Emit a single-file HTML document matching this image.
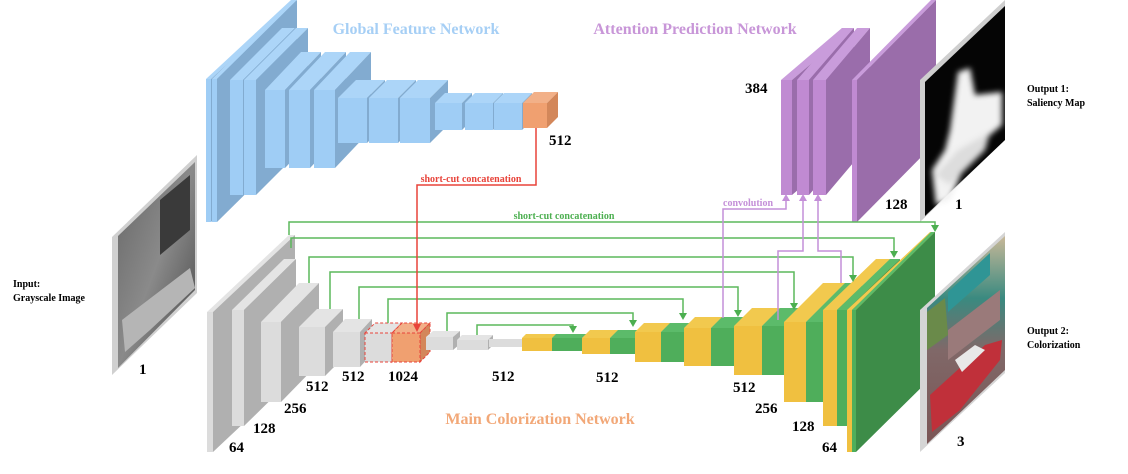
<!DOCTYPE html>
<html><head><meta charset="utf-8">
<style>
html,body{margin:0;padding:0;background:#fff;}
svg{display:block;}
text{font-family:"Liberation Serif",serif;font-weight:bold;}
</style></head>
<body>
<svg id="s" width="1128" height="474" viewBox="0 0 1128 474" xmlns="http://www.w3.org/2000/svg">
<defs>
<linearGradient id="gray1" x1="0" y1="0" x2="1" y2="1"><stop offset="0" stop-color="#666"/><stop offset="0.5" stop-color="#8a8a8a"/><stop offset="1" stop-color="#444"/></linearGradient>
<linearGradient id="col1" x1="0" y1="0" x2="0" y2="1"><stop offset="0" stop-color="#c8b898"/><stop offset="0.3" stop-color="#3a8a80"/><stop offset="0.55" stop-color="#806868"/><stop offset="1" stop-color="#7a5555"/></linearGradient>
<filter id="bl"><feGaussianBlur stdDeviation="3"/></filter>
</defs>
<g id="g"></g>
</svg>
<script>
var NS="http://www.w3.org/2000/svg",G=document.getElementById('g');
function el(t,a,txt){var e=document.createElementNS(NS,t);for(var k in a)e.setAttribute(k,a[k]);if(txt!==undefined)e.textContent=txt;G.appendChild(e);return e;}
function poly(p,f,extra){var a={points:p.map(function(q){return q.join(',')}).join(' '),fill:f};for(var k in extra)a[k]=extra[k];return el('polygon',a);}
function box(x,y,w,h,dx,dy,cf,ct,cs,extra){
  poly([[x,y],[x+w,y],[x+w+dx,y-dy],[x+dx,y-dy]],ct,extra);
  poly([[x+w,y],[x+w+dx,y-dy],[x+w+dx,y+h-dy],[x+w,y+h]],cs,extra);
  el('rect',Object.assign({x:x,y:y,width:w,height:h,fill:cf},extra||{}));
}
var BF='#9fcdf5',BT='#acd5f8',BS='#82abd0';
var GF='#dcdcdc',GT='#e4e4e4',GS='#b0b0b0';
var YF='#f0c040',YT='#f2c94e',YS='#e0b030';
var NF='#4fae5b',NT='#5cbb6a',NS2='#3e8f4a';
var PF='#c08ad2',PT='#c99cdb',PS='#9a6dab';
box(206,79,5,143,85,79,BF,BT,BS);
box(212,79,5,143,80,79,BF,BT,BS);
box(230,80,13,115,52,52,BF,BT,BS);
box(244,80,12,115,52,52,BF,BT,BS);
box(265,90,20,78,36,38,BF,BT,BS);
box(289,90,21,78,36,38,BF,BT,BS);
box(314,90,21,78,36,38,BF,BT,BS);
box(338,98,29,45,18,18,BF,BT,BS);
box(369,98,29,45,18,18,BF,BT,BS);
box(400,98,30,45,18,18,BF,BT,BS);
box(435,103,27,27,10,10,BF,BT,BS);
box(465,103,28,27,10,10,BF,BT,BS);
box(494,103,28,27,10,10,BF,BT,BS);
box(523,103,24,25,11,11,'#f0a070','#f2b088','#d3875a');
box(207,312,6,140,82,77,GF,GT,GS);
box(232,310,12,116,52,51,GF,GT,GS);
box(261,322,20,80,38,39,GF,GT,GS);
box(299,327,26,49,18,18,GF,GT,GS);
box(333,332,27,35,12,13,GF,GT,GS);
box(365,333,27,29,10,10,GF,GT,GS,{stroke:'#e8433a','stroke-width':1,'stroke-dasharray':'3,2'});
box(392,333,28,29,10,10,'#f0a070','#f2b088','#d3875a',{stroke:'#e8433a','stroke-width':1,'stroke-dasharray':'3,2'});
box(426,337,27,13,7,6,GF,GT,GS);
box(457,340,31,10,5,5,GF,GT,GS);
el('rect',{x:489,y:339,width:33,height:8,fill:'#dcdcdc'});
box(522,338,30,13,4,4,YF,YT,YS);
box(552,338,30,13,4,4,NF,NT,NS2);
box(582,338,28,16,8,8,YF,YT,YS);
box(610,338,26,16,8,8,NF,NT,NS2);
box(635,332,26,30,9,9,YF,YT,YS);
box(661,332,24,30,9,9,NF,NT,NS2);
box(684,328,27,38,11,11,YF,YT,YS);
box(711,328,23,38,11,11,NF,NT,NS2);
box(734,326,28,49,18,18,YF,YT,YS);
box(762,326,22,49,18,18,NF,NT,NS2);
box(784,322,22,80,39,39,YF,YT,YS);
box(806,322,17,80,39,39,NF,NT,NS2);
box(823,310,14,116,53,51,YF,YT,YS);
box(837,310,10,116,53,51,NF,NT,NS2);
box(847,310,5,142,83,78,YF,YT,YS);
box(852,310,4,142,79,78,NF,NT,'#3d8c48');
box(781,80,11,115,61,52,PF,PT,PS);
box(797,80,12,115,45,52,PF,PT,PS);
box(813,80,13,115,44,52,PF,PT,PS);
box(852,80,5,142,79,80,PF,PT,'#9a6daa');
// saliency
poly([[920,80],[1005,0],[1005,140],[920,222]],'#cfcfcf');
poly([[925,82],[1005,6],[1005,140],[925,216]],'#050505');
var sw=el('g',{filter:'url(#bl)'});
function sp(p,f){var e=poly(p,f);sw.appendChild(e);}
sp([[950,130],[958,72],[970,68],[975,95],[1002,92],[1002,125],[990,135],[965,165],[950,200],[936,205],[932,170],[945,150]],'#f2f2f2');
sp([[935,175],[958,150],[990,132],[985,150],[950,185]],'#ddd');
// colorization
poly([[920,310],[1005,232],[1005,373],[920,452]],'#d5d5d5');
poly([[927,308],[1005,236],[1005,370],[927,444]],'url(#col1)');
poly([[948,292],[990,253],[990,275],[948,312]],'#2f9595');
poly([[927,312],[945,298],[948,335],[927,350]],'#6a8a4a');
poly([[948,330],[1000,290],[1000,320],[948,360]],'#9a7a7a');
poly([[930,395],[985,345],[1002,340],[1000,360],[960,410],[932,432]],'#c0303a');
poly([[955,360],[975,345],[985,350],[962,372]],'#e8e8e8');
// grayscale input
poly([[112,237],[197,155],[197,293],[112,375]],'#d0d0d0');
poly([[118,236],[195,162],[195,290],[118,368]],'url(#gray1)');
poly([[122,320],[190,268],[195,288],[150,330],[125,352]],'#b5b5b5');
poly([[160,200],[190,175],[190,230],[160,255]],'#3a3a3a');
// green skip lines
var gl=[[289,235,222,935,232],[291,248,238,894,258],[309,283,257,853,282],[330,309,272,794,310],[359,319,287,738,317],[388,323,299,683,320],[447,331,313,633,327],[477,335,325,573,333]];
gl.forEach(function(a){el('polyline',{points:a[0]+','+a[1]+' '+a[0]+','+a[2]+' '+a[3]+','+a[2]+' '+a[3]+','+(a[4]-5),fill:'none',stroke:'#5cb85c','stroke-width':1.5});
 poly([[a[3]-4,a[4]-7],[a[3]+4,a[4]-7],[a[3],a[4]]],'#4caf50');});
el('polyline',{points:'536,128 536,185 417,185 417,326',fill:'none',stroke:'#e8433a','stroke-width':1.5});
poly([[413,324],[421,324],[417,332]],'#e8433a');
var pc='#c48fd8';
el('polyline',{points:'723,318 723,209 786,209 786,200',fill:'none',stroke:pc,'stroke-width':1.5});
el('polyline',{points:'778,320 778,251 803,251 803,200',fill:'none',stroke:pc,'stroke-width':1.5});
el('polyline',{points:'841,283 841,251 818,251 818,200',fill:'none',stroke:pc,'stroke-width':1.5});
[786,803,818].forEach(function(x){poly([[x-4,201],[x+4,201],[x,194]],pc);});
el('text',{x:416,y:34,'font-size':16,fill:'#a6cff5','text-anchor':'middle'},'Global Feature Network');
el('text',{x:695,y:34,'font-size':16,fill:'#c896d8','text-anchor':'middle'},'Attention Prediction Network');
el('text',{x:540,y:424,'font-size':16,fill:'#f2a878','text-anchor':'middle'},'Main Colorization Network');
el('text',{x:471,y:182,'font-size':10,fill:'#e8433a','text-anchor':'middle'},'short-cut concatenation');
el('text',{x:564,y:219,'font-size':10,fill:'#4caf50','text-anchor':'middle'},'short-cut concatenation');
el('text',{x:723,y:206,'font-size':10,fill:'#c48fd8'},'convolution');
var nums=[[549,145,'512'],[745,93,'384'],[885,209,'128'],[955,209,'1'],[139,374,'1'],[957,446,'3'],
[229,452,'64'],[253,433,'128'],[284,413,'256'],[306,391,'512'],[342,381,'512'],[388,381,'1024'],[492,381,'512'],[596,382,'512'],[733,392,'512'],[755,413,'256'],[792,431,'128'],[822,452,'64']];
nums.forEach(function(n){el('text',{x:n[0],y:n[1],'font-size':15,fill:'#000'},n[2]);});
[[13,287,'Input:'],[13,301,'Grayscale Image'],[1027,92,'Output 1:'],[1027,106,'Saliency Map'],[1027,334,'Output 2:'],[1027,348,'Colorization']].forEach(function(t){el('text',{x:t[0],y:t[1],'font-size':10,fill:'#000'},t[2]);});
</script>
</body></html>
